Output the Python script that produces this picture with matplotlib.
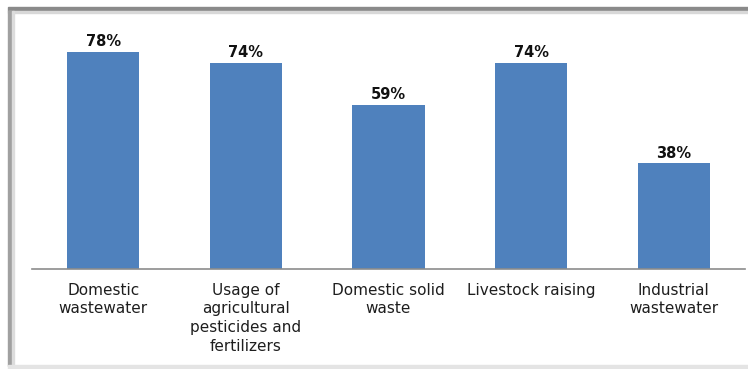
import matplotlib.pyplot as plt
from matplotlib.patches import Rectangle
import numpy as np

categories = ['Domestic\nwastewater',
              'Usage of\nagricultural\npesticides and\nfertilizers',
              'Domestic solid\nwaste',
              'Livestock raising',
              'Industrial\nwastewater']
values = [78, 74, 59, 74, 38]

W, H = 748, 369
fig = plt.figure(figsize=(W / 100, H / 100), dpi=100)
fig.patch.set_facecolor('white')

# frame around the chart area
fig.patches.append(Rectangle((8 / W, 1 - 11 / H), 1, 4 / H, transform=fig.transFigure,
                             color='#8a8a8a', zorder=0))
fig.patches.append(Rectangle((8 / W, 1 - 13 / H), 1, 2 / H, transform=fig.transFigure,
                             color='#d8d8d8', zorder=0))
fig.patches.append(Rectangle((8 / W, 3 / H), 4 / W, 1 - 14 / H, transform=fig.transFigure,
                             color='#a0a0a0', zorder=0))
fig.patches.append(Rectangle((12 / W, 3 / H), 2 / W, 1 - 14 / H, transform=fig.transFigure,
                             color='#dcdcdc', zorder=0))
fig.patches.append(Rectangle((8 / W, 0), 1, 4 / H, transform=fig.transFigure,
                             color='#e4e4e4', zorder=0))

ymax = 90
px_per_unit = 217 / 78
top_px = 269 - px_per_unit * ymax
ax = fig.add_axes([32 / W, 1 - 269 / H, (745 - 32) / W, (269 - top_px) / H])
ax.set_facecolor('none')

x = np.arange(len(values))
ax.bar(x, values, width=0.505, color='#4f81bd', zorder=2)
for xi, v in zip(x, values):
    ax.annotate(f'{v}%', (xi, v), xytext=(0, 2), textcoords='offset points',
                ha='center', va='bottom', fontsize=10.5, fontweight='bold', color='#111111')

ax.set_xlim(-0.5, len(values) - 0.5)
ax.set_ylim(0, ymax)
ax.set_yticks([])
ax.set_xticks(x, categories)
ax.tick_params(axis='x', length=0, pad=10, labelsize=11, labelcolor='#1e1e1e')
for lbl in ax.get_xticklabels():
    lbl.set_linespacing(1.3)

for side in ['top', 'right', 'left']:
    ax.spines[side].set_visible(False)
ax.spines['bottom'].set_color('#8c8c8c')
ax.spines['bottom'].set_linewidth(1.2)

fig.savefig('out.png', dpi=100)
